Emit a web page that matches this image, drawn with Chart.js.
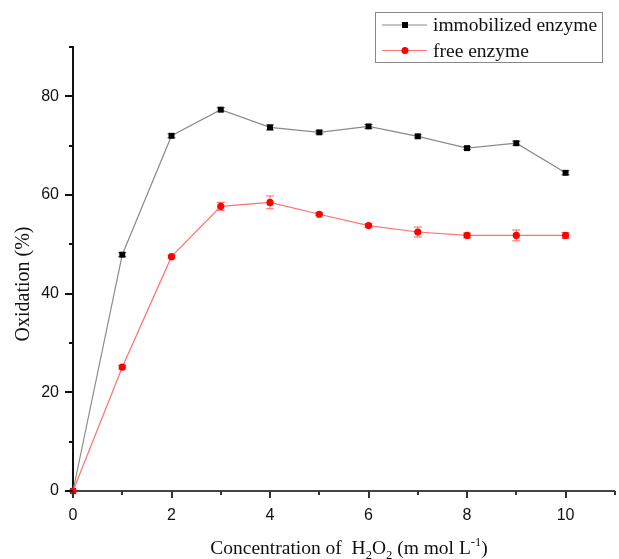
<!DOCTYPE html>
<html>
<head>
<meta charset="utf-8">
<title>Oxidation vs H2O2</title>
<script src="https://cdn.jsdelivr.net/npm/chart.js@4.4.0/dist/chart.umd.min.js"></script>
<style>
  html, body { margin: 0; padding: 0; background: #fff; }
  #wrap { width: 619px; height: 559px; }
</style>
</head>
<body>
<div id="wrap"><canvas id="chart" width="619" height="559"></canvas></div>
<script>
// H2O2 concentration (m mol/L)
const concentration = [0, 1, 2, 3, 4, 5, 6, 7, 8, 9, 10];

// oxidation (%) and standard deviations
const immobilized    = [0, 47.9, 72.0, 77.3, 73.7, 72.7, 73.9, 71.9, 69.5, 70.5, 64.5];
const immobilizedErr = [0, 0.4, 0.4, 0.4, 0.5, 0.3, 0.4, 0.3, 0.3, 0.4, 0.4];
const free           = [0, 25.1, 47.5, 57.7, 58.5, 56.1, 53.8, 52.5, 51.8, 51.8, 51.8];
const freeErr        = [0, 0.4, 0.3, 0.8, 1.3, 0.3, 0.4, 1.0, 0.5, 1.1, 0.6];

// axis ticks
const xMajor = [0, 2, 4, 6, 8, 10];
const xMinor = [1, 3, 5, 7, 9, 11];
const yMajor = [0, 20, 40, 60, 80];
const yMinor = [10, 30, 50, 70, 90];

const serif = "'Liberation Serif', 'Times New Roman', serif";
const sans  = "'Liberation Sans', Arial, sans-serif";

const toPoints = (ys, errs) => ys.map((y, i) => ({ x: concentration[i], y: y, err: errs[i] }));

// vertical error bars with caps
const errorBars = {
  id: "errorBars",
  beforeDatasetDraw(chart, args) {
    const ds = chart.data.datasets[args.index];
    const { x: xs, y: ys } = chart.scales;
    const ctx = chart.ctx;
    ctx.save();
    ctx.strokeStyle = ds.errColor;
    ctx.lineWidth = 1;
    ds.data.forEach(p => {
      if (!p.err) return;
      const px = xs.getPixelForValue(p.x);
      const top = ys.getPixelForValue(p.y + p.err);
      const bot = ys.getPixelForValue(p.y - p.err);
      ctx.beginPath();
      ctx.moveTo(px, top); ctx.lineTo(px, bot);
      ctx.moveTo(px - 4, top); ctx.lineTo(px + 4, top);
      ctx.moveTo(px - 4, bot); ctx.lineTo(px + 4, bot);
      ctx.stroke();
    });
    ctx.restore();
  }
};

// outward tick marks, major and minor
const tickMarks = {
  id: "tickMarks",
  afterDraw(chart) {
    const { ctx, chartArea: a } = chart;
    const { x: xs, y: ys } = chart.scales;
    ctx.save();
    ctx.lineWidth = 2;
    ctx.strokeStyle = "#111";
    ctx.beginPath();
    yMajor.forEach(v => { const p = Math.round(ys.getPixelForValue(v)); ctx.moveTo(a.left, p); ctx.lineTo(a.left - 8, p); });
    yMinor.forEach(v => { const p = Math.round(ys.getPixelForValue(v)); ctx.moveTo(a.left, p); ctx.lineTo(a.left - 4, p); });
    ctx.stroke();
    ctx.strokeStyle = "#333";
    ctx.beginPath();
    xMajor.forEach(v => { const p = Math.round(xs.getPixelForValue(v)); ctx.moveTo(p, a.bottom); ctx.lineTo(p, a.bottom + 7); });
    xMinor.forEach(v => { const p = Math.round(xs.getPixelForValue(v)); ctx.moveTo(p, a.bottom); ctx.lineTo(p, a.bottom + 4); });
    ctx.stroke();
    ctx.restore();
  }
};

// axis titles (x title carries sub/superscripts)
const axisTitles = {
  id: "axisTitles",
  afterDraw(chart) {
    const { ctx, chartArea: a } = chart;
    ctx.save();
    ctx.fillStyle = "#111";
    ctx.textBaseline = "alphabetic";

    // y title
    ctx.font = "20px " + serif;
    ctx.translate(29, 284);
    ctx.rotate(-Math.PI / 2);
    ctx.textAlign = "center";
    ctx.fillText("Oxidation (%)", 0, 0);
    ctx.setTransform(1, 0, 0, 1, 0, 0);

    // x title
    const parts = [
      ["Concentration of  H", 0], ["2", 1], ["O", 0], ["2", 1], [" (m mol L", 0], ["-1", -1], [")", 0]
    ];
    const big = "19.5px " + serif, small = "12.5px " + serif;
    let w = 0;
    parts.forEach(([t, k]) => { ctx.font = k ? small : big; w += ctx.measureText(t).width; });
    let x = 349 - w / 2;
    const base = 554;
    ctx.textAlign = "left";
    parts.forEach(([t, k]) => {
      ctx.font = k ? small : big;
      const dy = k === 1 ? 5 : k === -1 ? -8 : 0;
      ctx.fillText(t, x, base + dy);
      x += ctx.measureText(t).width;
    });
    ctx.restore();
  }
};

// boxed legend in the top right corner
const boxLegend = {
  id: "boxLegend",
  afterDraw(chart) {
    const ctx = chart.ctx;
    const box = { left: 375, top: 12, width: 227, height: 50 };
    ctx.save();
    ctx.strokeStyle = "#888";
    ctx.lineWidth = 1;
    ctx.strokeRect(box.left + 0.5, box.top + 0.5, box.width, box.height);
    chart.data.datasets.forEach((ds, i) => {
      const y = box.top + 13 + i * 25.5;
      ctx.strokeStyle = ds.borderColor;
      ctx.lineWidth = 1;
      ctx.beginPath();
      ctx.moveTo(382, y); ctx.lineTo(427, y);
      ctx.stroke();
      ctx.fillStyle = ds.pointBackgroundColor;
      if (ds.pointStyle === "rect") {
        ctx.fillRect(402, y - 3, 6, 6);
      } else {
        ctx.beginPath();
        ctx.arc(405, y, 3.5, 0, Math.PI * 2);
        ctx.fill();
      }
      ctx.fillStyle = "#111";
      ctx.font = "19.5px " + serif;
      ctx.textBaseline = "middle";
      ctx.fillText(ds.label, 433, y + 1);
    });
    ctx.restore();
  }
};

new Chart(document.getElementById("chart"), {
  type: "line",
  data: {
    datasets: [
      {
        label: "immobilized enzyme",
        data: toPoints(immobilized, immobilizedErr),
        borderColor: "#8a8a8a",
        borderWidth: 1.2,
        pointStyle: "rect",
        pointRadius: 4.2,
        pointBackgroundColor: "#000",
        pointBorderWidth: 0,
        errColor: "#555",
        clip: false,
        order: 1
      },
      {
        label: "free enzyme",
        data: toPoints(free, freeErr),
        borderColor: "#ff7070",
        borderWidth: 1.2,
        pointStyle: "circle",
        pointRadius: 3.6,
        pointBackgroundColor: "#ff0000",
        pointBorderWidth: 0,
        errColor: "#ff6060",
        clip: false,
        order: 0
      }
    ]
  },
  options: {
    responsive: false,
    animation: false,
    layout: { padding: { top: 47, right: 0, left: 0, bottom: 0 } },
    plugins: { legend: { display: false }, tooltip: { enabled: false } },
    elements: { line: { tension: 0 } },
    scales: {
      x: {
        type: "linear",
        min: 0,
        max: 11,
        afterBuildTicks: s => { s.ticks = xMajor.map(v => ({ value: v })); },
        afterFit: s => { s.height = 68; },
        grid: { display: false, drawTicks: false },
        border: { display: true, color: "#444", width: 2 },
        ticks: { padding: 15, color: "#111", font: { family: sans, size: 16 } }
      },
      y: {
        min: 0,
        max: 90,
        afterBuildTicks: s => { s.ticks = yMajor.map(v => ({ value: v })); },
        afterFit: s => { s.width = 73; },
        grid: { display: false, drawTicks: false },
        border: { display: true, color: "#111", width: 2 },
        ticks: { padding: 14, color: "#111", font: { family: sans, size: 16 } }
      }
    }
  },
  plugins: [errorBars, tickMarks, axisTitles, boxLegend]
});
</script>
</body>
</html>
